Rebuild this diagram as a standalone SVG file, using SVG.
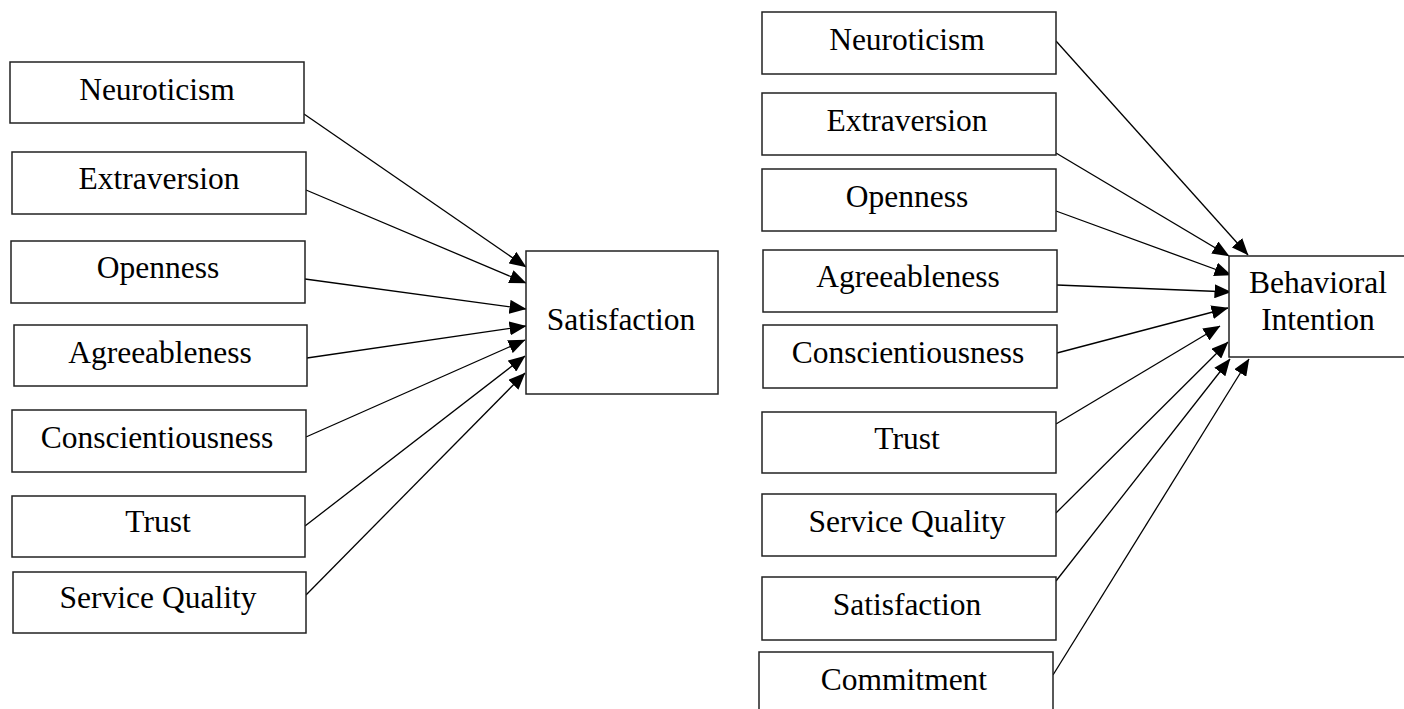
<svg xmlns="http://www.w3.org/2000/svg" width="1404" height="709" viewBox="0 0 1404 709">
<style>
.box{fill:#fff;stroke:#222;stroke-width:1.5}
.lbl{font-family:"Liberation Serif","Times New Roman",serif;font-size:31.5px;fill:#000;text-anchor:middle}
.edge{stroke:#000;stroke-width:1.3;fill:none;marker-end:url(#ah)}
</style>
<defs>
<marker id="ah" markerUnits="userSpaceOnUse" viewBox="0 0 17 14" markerWidth="17" markerHeight="14" refX="16.5" refY="7" orient="auto">
<path d="M0,0 L17,7 L0,14 z" fill="#000"/>
</marker>
</defs>
<rect width="1404" height="709" fill="#fff"/>
<g id="connectors">
<line class="edge" x1="304" y1="114" x2="526" y2="267"/>
<line class="edge" x1="306" y1="190" x2="526" y2="283"/>
<line class="edge" x1="305" y1="279" x2="526" y2="309"/>
<line class="edge" x1="307" y1="358" x2="526" y2="326"/>
<line class="edge" x1="306" y1="437" x2="525" y2="340"/>
<line class="edge" x1="305" y1="526" x2="525" y2="356"/>
<line class="edge" x1="306" y1="595" x2="525" y2="373"/>
<line class="edge" x1="1056" y1="41" x2="1248" y2="255"/>
<line class="edge" x1="1056" y1="153" x2="1229" y2="256"/>
<line class="edge" x1="1056" y1="211" x2="1231" y2="275"/>
<line class="edge" x1="1057" y1="285" x2="1231" y2="292"/>
<line class="edge" x1="1057" y1="353" x2="1228" y2="308"/>
<line class="edge" x1="1056" y1="424" x2="1220" y2="326"/>
<line class="edge" x1="1056" y1="513" x2="1228" y2="342"/>
<line class="edge" x1="1056" y1="581" x2="1230" y2="359"/>
<line class="edge" x1="1053" y1="675" x2="1249" y2="359"/>
</g>
<g id="l-neuroticism"><rect class="box" x="10" y="62" width="294" height="61"/><text class="lbl" x="157" y="100">Neuroticism</text></g>
<g id="l-extraversion"><rect class="box" x="12" y="152" width="294" height="62"/><text class="lbl" x="159" y="189">Extraversion</text></g>
<g id="l-openness"><rect class="box" x="11" y="241" width="294" height="62"/><text class="lbl" x="158" y="278">Openness</text></g>
<g id="l-agreeableness"><rect class="box" x="14" y="325" width="293" height="61"/><text class="lbl" x="160" y="363">Agreeableness</text></g>
<g id="l-conscientiousness"><rect class="box" x="12" y="410" width="294" height="62"/><text class="lbl" x="157" y="448">Conscientiousness</text></g>
<g id="l-trust"><rect class="box" x="12" y="496" width="293" height="61"/><text class="lbl" x="158" y="532">Trust</text></g>
<g id="l-servicequality"><rect class="box" x="13" y="572" width="293" height="61"/><text class="lbl" x="158" y="608">Service Quality</text></g>
<g id="satisfaction"><rect class="box" x="526" y="251" width="192" height="143"/><text class="lbl" x="621" y="330">Satisfaction</text></g>
<g id="r-neuroticism"><rect class="box" x="762" y="12" width="294" height="62"/><text class="lbl" x="907" y="50">Neuroticism</text></g>
<g id="r-extraversion"><rect class="box" x="762" y="93" width="294" height="62"/><text class="lbl" x="907" y="131">Extraversion</text></g>
<g id="r-openness"><rect class="box" x="762" y="169" width="294" height="62"/><text class="lbl" x="907" y="207">Openness</text></g>
<g id="r-agreeableness"><rect class="box" x="763" y="250" width="294" height="62"/><text class="lbl" x="908" y="287">Agreeableness</text></g>
<g id="r-conscientiousness"><rect class="box" x="763" y="325" width="294" height="63"/><text class="lbl" x="908" y="363">Conscientiousness</text></g>
<g id="r-trust"><rect class="box" x="762" y="412" width="294" height="61"/><text class="lbl" x="907" y="449">Trust</text></g>
<g id="r-servicequality"><rect class="box" x="762" y="494" width="294" height="62"/><text class="lbl" x="907" y="532">Service Quality</text></g>
<g id="r-satisfaction"><rect class="box" x="762" y="577" width="294" height="63"/><text class="lbl" x="907" y="615">Satisfaction</text></g>
<g id="r-commitment"><rect class="box" x="759" y="652" width="294" height="70"/><text class="lbl" x="904" y="690">Commitment</text></g>
<g id="behavioral-intention"><rect class="box" x="1229" y="256" width="200" height="101"/><text class="lbl" x="1318" y="293">Behavioral</text><text class="lbl" x="1318" y="330">Intention</text></g>
</svg>
